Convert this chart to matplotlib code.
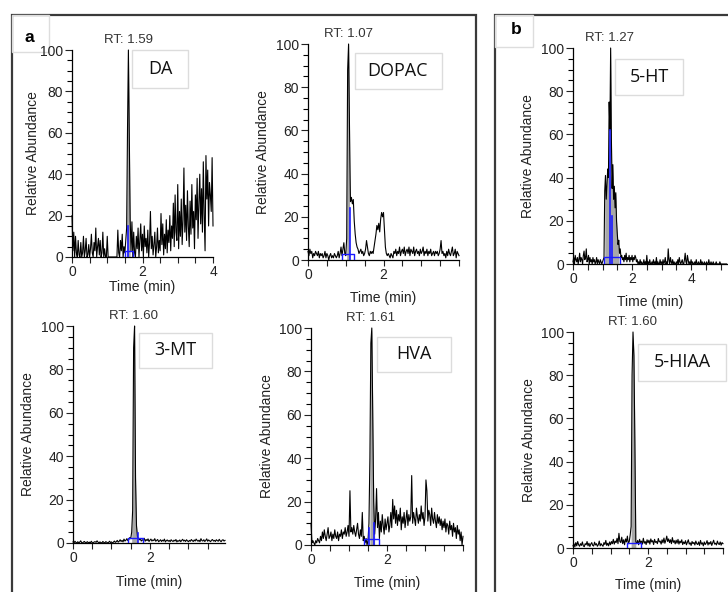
import numpy as np
import matplotlib
matplotlib.use('Agg')
import matplotlib.pyplot as plt
from matplotlib.patches import Rectangle

plt.rcParams['font.family'] = ['Liberation Sans', 'DejaVu Sans']

W, H = 728, 592
STEP = 0.025  # scan interval (min)

# relative abundance, one value per scan
da = [20, 3, 12, 0, 10, 2, 0, 8, 1, 0,
      7, 0, 2, 10, 0, 3, 9, 0, 1, 6,
      0, 4, 11, 2, 0, 7, 3, 14, 0, 5,
      9, 1, 8, 0, 2, 12, 0, 4, 0, 0,
      10, 0, 0, 0, 0, 0, 0, 0, 0, 0,
      0, 0, 13, 2, 0, 8, 3, 11, 0, 5,
      2, 8, 14, 62, 100, 57, 18, 3, 17, 0,
      12, 2, 0, 10, 4, 14, 0, 8, 16, 3,
      11, 0, 15, 5, 9, 2, 13, 0, 7, 22,
      4, 10, 1, 6, 12, 0, 5, 14, 2, 8,
      3, 21, 6, 16, 1, 11, 4, 18, 2, 13,
      7, 20, 3, 15, 9, 26, 5, 30, 12, 8,
      35, 4, 22, 10, 28, 6, 18, 43, 12, 25,
      8, 32, 15, 5, 27, 11, 35, 14, 22, 4,
      30, 18, 38, 9, 26, 40, 16, 33, 12, 46,
      20, 3, 49, 28, 42, 15, 36, 30, 22, 48, 15]

dopac = [4, 2, 5, 3, 4, 1, 3, 2, 4, 3,
         2, 4, 1, 3, 2, 3, 1, 2, 4, 1,
         3, 2, 0, 2, 3, 1, 2, 1, 3, 2,
         1, 2, 4, 1, 3, 6, 2, 5, 8, 3,
         2, 10, 88, 100, 60, 27, 29, 26, 28, 18,
         12, 8, 6, 5, 3, 4, 5, 3, 4, 2,
         3, 5, 9, 6, 3, 2, 4, 3, 4, 3,
         6, 9, 12, 16, 14, 17, 13, 19, 22, 20,
         22, 14, 6, 3, 2, 3, 2, 1, 3, 2,
         1, 4, 3, 5, 2, 4, 3, 6, 2, 4,
         5, 3, 6, 2, 4, 5, 3, 6, 2, 5,
         4, 3, 6, 2, 4, 5, 3, 4, 2, 5,
         3, 4, 6, 2, 4, 3, 5, 2, 4, 3,
         5, 2, 3, 4, 2, 4, 3, 4, 2, 3,
         5, 9, 3, 4, 2, 3, 1, 4, 2, 5,
         3, 2, 4, 6, 2, 3, 5, 1, 4, 3, 2]

ht5 = [1, 3, 0, 4, 2, 1, 3, 0, 2, 5,
       1, 3, 2, 0, 4, 6, 2, 3, 7, 1,
       2, 4, 0, 3, 1, 2, 0, 3, 1, 2,
       0, 1, 3, 0, 2, 1, 0, 2, 1, 0,
       1, 2, 3, 34, 41, 30, 36, 44, 40, 75,
       62, 100, 58, 35, 46, 30, 36, 26, 33, 20,
       14, 9, 11, 5, 7, 3, 4, 2, 3, 1,
       4, 2, 5, 1, 3, 2, 4, 1, 3, 2,
       4, 1, 3, 2, 4, 3, 1, 2, 0, 1,
       0, 2, 0, 1, 0, 0, 2, 0, 1, 0,
       4, 0, 1, 0, 2, 0, 0, 1, 0, 2,
       0, 1, 0, 3, 0, 1, 0, 0, 2, 0,
       1, 0, 2, 0, 1, 3, 0, 1, 0, 7,
       2, 0, 3, 1, 0, 2, 0, 1, 0, 0,
       1, 0, 2, 0, 3, 1, 0, 1, 2, 0,
       0, 2, 5, 1, 0, 4, 2, 0, 1, 0,
       2, 0, 1, 0, 0, 1, 0, 2, 0, 0,
       1, 0, 0, 2, 0, 1, 0, 0, 1, 0,
       0, 1, 0, 0, 2, 0, 0, 1, 0, 0,
       1, 0, 0, 0, 1, 0, 0, 0, 0, 1,
       0, 0, 0, 0, 0, 0, 0, 0, 0]

mt3 = [0.5, 0, 0.8, 0.3, 0, 0.6, 0, 0.4, 1, 0.2,
       0, 0.5, 0.7, 0, 0.3, 0.6, 0, 0.4, 0, 0.8,
       0.2, 0, 0.5, 0.6, 0.3, 1, 0.4, 0, 0.5, 0.2,
       0, 0.7, 0.3, 0, 0.6, 0.4, 0, 0.3, 0.8, 0.2,
       0.5, 0, 0.4, 0.9, 0.3, 0.6, 1.2, 0.4, 0.8, 1.5,
       0.7, 1.2, 0.5, 1.8, 0.9, 1.3, 2, 1.1, 1.6, 2.5,
       2, 5, 15, 90, 100, 30, 8, 3, 2, 1.5,
       1.8, 0.9, 1.5, 1.2, 2.2, 0.8, 1.6, 1.1, 1.9, 0.7,
       1.3, 1.8, 0.9, 1.4, 1.1, 2.0, 0.8, 1.2, 1.6, 0.6,
       1.0, 1.5, 0.7, 1.3, 0.9, 1.8, 0.5, 1.1, 1.4, 0.8,
       1.2, 0.6, 1.5, 1.0, 0.7, 1.3, 0.9, 1.6, 0.5, 1.1,
       0.8, 1.4, 0.6, 1.2, 1.7, 0.9, 1.3, 0.7, 1.5, 1.0,
       0.6, 1.2, 0.8, 1.6, 1.1, 0.7, 1.4, 0.9, 1.8, 1.2,
       0.8, 1.3, 0.6, 2.0, 1.1, 0.9, 1.5, 0.7, 1.2, 1.9,
       0.8, 1.4, 1.0, 0.6, 1.3, 1.6, 0.9, 1.2, 0.7, 1.5,
       1.1, 0.8, 1.7, 1.0, 0.6, 1.3, 1.5, 0.9, 1.2]

hva = [10, 1, 2, 1, 0, 2, 1, 3, 2, 1,
       4, 2, 6, 3, 7, 4, 2, 5, 8, 3,
       4, 6, 2, 5, 3, 7, 4, 3, 6, 2,
       5, 4, 7, 3, 6, 5, 8, 4, 6, 9,
       4, 25, 6, 8, 5, 9, 6, 4, 7, 10,
       5, 3, 7, 4, 15, 2, 4, 1, 3, 0,
       2, 10, 40, 93, 100, 61, 20, 5, 12, 26,
       8, 15, 3, 11, 6, 14, 9, 5, 12, 7,
       10, 13, 6, 9, 15, 8, 21, 12, 18, 10,
       16, 9, 14, 11, 17, 7, 13, 10, 15, 8,
       12, 16, 9, 14, 11, 13, 32, 10, 15, 12,
       9, 17, 13, 10, 14, 11, 18, 12, 15, 9,
       13, 30, 25, 11, 16, 14, 9, 17, 12, 10,
       15, 11, 8, 14, 10, 13, 9, 12, 7, 11,
       8, 12, 6, 10, 9, 5, 11, 7, 9, 4,
       10, 6, 8, 3, 9, 5, 7, 2, 6, 0, 4]

hiaa5 = [1, 2, 0.5, 2.5, 1, 3, 1.5, 0.8, 2, 1.2,
         2.8, 1, 0.6, 2, 1.5, 3, 1, 2.2, 0.7, 1.8,
         2.5, 1.2, 0.9, 2.7, 1.4, 2, 0.8, 1.5, 3.2, 1,
         2, 1.3, 0.8, 2.5, 1.6, 3.5, 1.2, 2.2, 1, 2.8,
         1.5, 3, 2, 4, 1.8, 3.2, 2.5, 4.5, 2, 6.8,
         3, 2.5, 5, 2, 3.8, 1.5, 4.2, 2.8, 5.5, 2,
         3, 6, 10, 80, 100, 89, 49, 3, 2, 3.5,
         1.5, 4, 2.5, 3.2, 1.8, 4.5, 2.2, 3, 1.6, 3.8,
         2.4, 3.6, 1.8, 4.2, 2.8, 3.4, 1.6, 4, 2.6, 3,
         2, 4.4, 2.8, 3.2, 1.8, 3.8, 2.4, 4.6, 2.2, 3.5,
         5.5, 3, 4.2, 2.5, 3.8, 2, 4.8, 2.6, 3.4, 1.9,
         3.6, 2.2, 4, 1.8, 3.2, 2.4, 3.8, 1.6, 2.8, 2,
         3.4, 1.5, 2.6, 3.8, 1.8, 2.4, 1.2, 3, 2, 2.6,
         1.4, 3.2, 2, 1.6, 2.8, 1.2, 3.5, 1.8, 2.4, 1,
         2.8, 1.6, 2.2, 3.4, 1.4, 2.6, 1.8, 3, 1.2, 2.4,
         3.6, 1.8, 2.2, 1.4, 3.2, 2, 1.6, 2.8, 1.3, 2.5, 2]

traces = [da, dopac, ht5, mt3, hva, hiaa5]
names = ['DA', 'DOPAC', '5-HT', '3-MT', 'HVA', '5-HIAA']
rt_labels = ['1.59', '1.07', '1.27', '1.60', '1.61', '1.60']
rt_pos = [1.59, 1.06, 1.23, 1.57, 1.58, 1.59]
fill_ranges = [(1.55, 1.65), (1.025, 1.1), (1.075, 1.55),
               (1.525, 1.675), (1.55, 1.675), (1.55, 1.675)]
# integration markers: (start, end, height) and vertical marks (time, top)
blue_boxes = [(1.49, 1.72, 3), (0.9, 1.23, 2.6), (1.05, 1.58, 3.4),
              (1.42, 1.81, 2.5), (1.39, 1.79, 2.6), (1.43, 1.81, 2.5)]
blue_marks = [[(1.58, 15)], [(1.11, 24)], [(1.27, 62), (1.31, 22)],
              [(1.70, 4.6)], [(1.53, 8), (1.66, 10)], []]

# layout in pixels: left, right, y of 0, y of 100, xmax, labelled x ticks,
# y-label offset, x-label offset
layout = [
    (72, 213, 257, 50, 4.0, [0, 2, 4], 39, 30),
    (308, 459, 260, 44, 4.0, [0, 2], 45, 38),
    (573, 728, 264, 48, 5.25, [0, 2, 4], 45, 38),
    (73, 225, 543, 326, 3.95, [0, 2], 45, 39),
    (311, 463, 545, 328, 4.0, [0, 2], 44, 38),
    (573, 723, 548, 332, 4.0, [0, 2], 44, 37),
]
# compound name boxes: centre x, centre y, width, height (px)
name_boxes = [(160, 69, 56, 38), (398, 71, 87, 36), (649, 77, 68, 36),
              (175, 350, 73, 35), (414, 354, 74, 35), (682, 362, 88, 37)]

fig = plt.figure(figsize=(W / 100, H / 100), dpi=100)


def fig_rect(x0, y0, x1, y1, **kw):
    r = Rectangle((x0 / W, 1 - y1 / H), (x1 - x0) / W, (y1 - y0) / H,
                  transform=fig.transFigure, **kw)
    fig.add_artist(r)


# panel frames and letters
fig_rect(12, 15, 476, 640, fill=False, ec='#3a3a3a', lw=1.6, zorder=0)
fig_rect(495, 15, 760, 640, fill=False, ec='#3a3a3a', lw=1.6, zorder=0)
fig_rect(12, 15, 49, 52, fill=False, ec='#dddddd', lw=1, zorder=0)
fig_rect(495, 15, 533, 47, fill=False, ec='#dddddd', lw=1, zorder=0)
fig.text(29 / W, 1 - 37 / H, 'a', ha='center', va='center', fontsize=12.5, fontweight='bold')
fig.text(516 / W, 1 - 30 / H, 'b', ha='center', va='center', fontsize=12.5, fontweight='bold')

for i in range(6):
    left, right, y0, y100, xmax, majors, ylab_off, xlab_off = layout[i]
    ax = fig.add_axes([left / W, 1 - y0 / H, (right - left) / W, (y0 - y100) / H])
    ax.set_facecolor('none')
    vals = np.array(traces[i], dtype=float)
    t = np.arange(len(vals)) * STEP

    f0, f1 = fill_ranges[i]
    m = (t >= f0 - 1e-9) & (t <= f1 + 1e-9)
    ax.fill_between(t[m], vals[m], 0, color='#a8a8a8', lw=0, zorder=1)
    ax.plot(t, vals, color='black', lw=0.8, zorder=2, clip_on=False)

    b0, b1, bh = blue_boxes[i]
    ax.plot([b0, b0, b1, b1], [0, bh, bh, 0], color='#1a1aff', lw=1, zorder=3)
    for bt, btop in blue_marks[i]:
        ax.plot([bt, bt], [0, btop], color='#1a1aff', lw=1.2, zorder=3)

    ax.set_xlim(0, xmax)
    ax.set_ylim(0, 100)
    for s in ['top', 'right']:
        ax.spines[s].set_visible(False)
    for s in ['left', 'bottom']:
        ax.spines[s].set_linewidth(0.9)
    ax.set_yticks([0, 20, 40, 60, 80, 100])
    ax.set_yticks(np.arange(0, 101, 5), minor=True)
    ax.set_xticks(majors)
    ax.set_xticks(np.arange(0, xmax + 0.01, 0.5), minor=True)
    ax.tick_params(axis='y', which='major', direction='out', length=5, width=0.8,
                   labelsize=10, pad=1.5, colors='#222222')
    ax.tick_params(axis='y', which='minor', direction='out', length=3.5, width=0.8)
    ax.tick_params(axis='x', which='both', direction='out', length=4, width=0.8,
                   labelsize=10, pad=2, colors='#222222')

    ax.set_ylabel('Relative Abundance', fontsize=10, color='#222222')
    ax.yaxis.set_label_coords(-ylab_off / (right - left), 0.5)
    ax.yaxis.label.set_va('center')
    ax.set_xlabel('Time (min)', fontsize=10, color='#222222')
    ax.xaxis.set_label_coords(0.5, -xlab_off / (y0 - y100))
    ax.xaxis.label.set_va('center')

    ax.annotate('RT: ' + rt_labels[i], xy=(rt_pos[i], 100), xytext=(0, 7),
                textcoords='offset points', ha='center', va='center',
                fontsize=9.5, color='#333333', annotation_clip=False)

    cx, cy, bw, bh2 = name_boxes[i]
    fig_rect(cx - bw / 2, cy - bh2 / 2, cx + bw / 2, cy + bh2 / 2,
             fc='white', ec='#dcdcdc', lw=1, zorder=3)
    fig.text(cx / W, 1 - cy / H, names[i], ha='center', va='center',
             fontsize=13, family=['Open Sans', 'DejaVu Sans'], color='#111111', zorder=4)

fig.savefig('out.png', dpi=100)
